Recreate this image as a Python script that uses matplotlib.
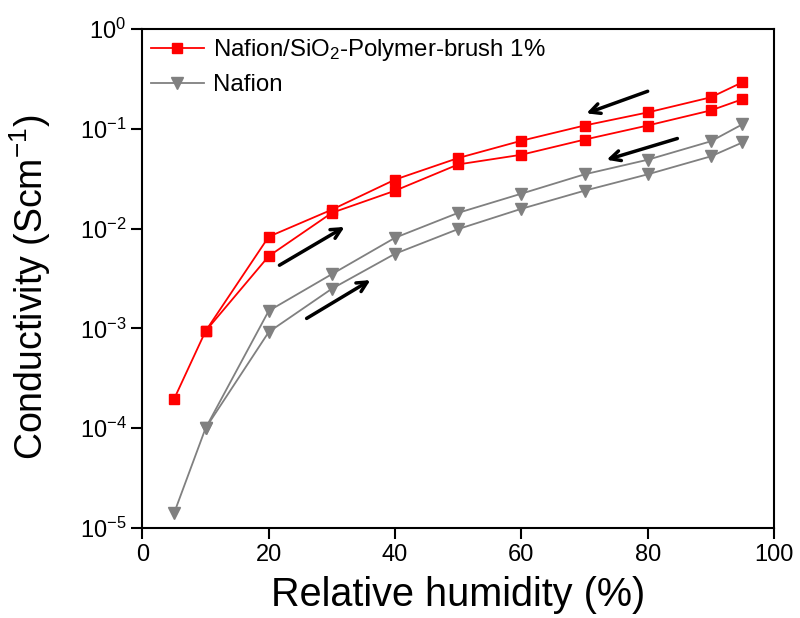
import matplotlib
matplotlib.use("Agg")
import matplotlib.pyplot as plt

plt.rcParams['font.family'] = ['Liberation Sans', 'DejaVu Sans']
plt.rcParams['mathtext.fontset'] = 'custom'
plt.rcParams['mathtext.rm'] = 'Liberation Sans'
plt.rcParams['mathtext.it'] = 'Liberation Sans:italic'
plt.rcParams['mathtext.bf'] = 'Liberation Sans:bold'
plt.rcParams['axes.unicode_minus'] = False

# humidity cycle: up from 5 % to 95 %, then back down to 10 %
rh_up = [5, 10, 20, 30, 40, 50, 60, 70, 80, 90, 95]
rh_down = [95, 90, 80, 70, 60, 50, 40, 30, 20, 10]

brush_up = [1.95e-4, 9.4e-4, 5.3e-3, 0.0144, 0.024, 0.044, 0.055, 0.078, 0.108, 0.153, 0.198]
brush_down = [0.293, 0.207, 0.146, 0.108, 0.076, 0.051, 0.031, 0.0155, 8.3e-3, 9.4e-4]

nafion_up = [1.4e-5, 1.0e-4, 9.2e-4, 2.5e-3, 5.6e-3, 0.0099, 0.0158, 0.024, 0.035, 0.053, 0.073]
nafion_down = [0.111, 0.075, 0.049, 0.035, 0.0224, 0.0144, 8.1e-3, 3.5e-3, 1.5e-3, 1.0e-4]

# arrows: (x_start, y_start, x_end, y_end)
arrows = [
    (21.7, 4.3e-3, 32.0, 0.0104),
    (26.0, 1.26e-3, 36.1, 3.05e-3),
    (80.0, 0.238, 70.3, 0.143),
    (84.7, 0.080, 73.5, 0.049),
]

RED = '#ff0000'
GREY = '#808080'

fig = plt.figure(figsize=(8, 6.18), dpi=100)
ax = fig.add_axes([0.178, 0.1456, 0.7895, 0.8074])

ax.plot(rh_up, brush_up, color=RED, lw=1.3, marker='s', ms=7.5,
        label='Nafion/SiO$_2$-Polymer-brush 1%')
ax.plot(rh_down, brush_down, color=RED, lw=1.3, marker='s', ms=7.5)
ax.plot(rh_up, nafion_up, color=GREY, lw=1.3, marker='v', ms=9, label='Nafion')
ax.plot(rh_down, nafion_down, color=GREY, lw=1.3, marker='v', ms=9)

for x0, y0, x1, y1 in arrows:
    ax.annotate('', xy=(x1, y1), xytext=(x0, y0),
                arrowprops=dict(arrowstyle='->', color='black', lw=2.5,
                                mutation_scale=18, shrinkA=0, shrinkB=0))

ax.set_yscale('log')
ax.set_xlim(0, 100)
ax.set_ylim(1e-5, 1)
ax.set_xticks([0, 20, 40, 60, 80, 100])
ax.yaxis.set_minor_locator(matplotlib.ticker.NullLocator())
ax.tick_params(axis='both', which='major', direction='out', length=8, width=1.5,
               labelsize=17)
for sp in ax.spines.values():
    sp.set_linewidth(1.5)

ax.set_xlabel('Relative humidity (%)', fontsize=28.5, labelpad=7)
ax.set_ylabel('Conductivity (Scm$^{-1}$)', fontsize=27)
ax.yaxis.set_label_coords(-0.142, 0.483)

ax.legend(loc='upper left', frameon=False, fontsize=17.3, handlelength=2.2,
          borderaxespad=0.05, handletextpad=0.4, labelspacing=0.45,
          borderpad=0.3)

fig.savefig('out.png', dpi=100)
